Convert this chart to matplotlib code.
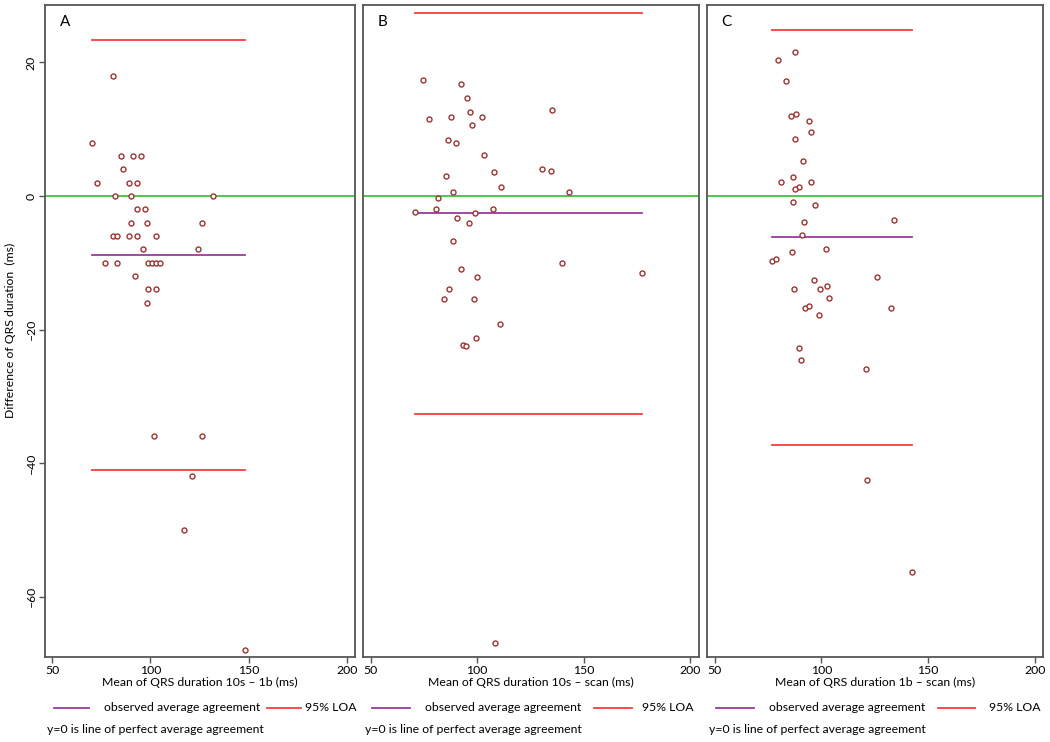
import matplotlib
matplotlib.use("Agg")
import matplotlib.pyplot as plt
from matplotlib.lines import Line2D

plt.rcParams['font.family'] = ['Lato', 'DejaVu Sans']

# ---------------- data ----------------
a_x = [81, 70, 85, 91, 95, 86, 73, 89, 93, 82, 90, 132, 93, 97, 90, 98, 126,
       81, 83, 89, 93, 103, 96, 124, 77, 83, 99, 101, 103, 105, 92, 99, 103, 98,
       102, 126, 121, 117, 148]
a_y = [18, 8, 6, 6, 6, 4, 2, 2, 2, 0, 0, 0, -2, -2, -4, -4, -4,
       -6, -6, -6, -6, -6, -8, -8, -10, -10, -10, -10, -10, -10, -12, -14, -14, -16,
       -36, -36, -42, -50, -68]

b_x = [74.5, 92.3, 95.4, 135.0, 96.4, 77.6, 87.9, 102.2, 97.5, 86.3, 89.9, 103.3,
       130.5, 134.4, 85.4, 107.8, 111.0, 88.5, 142.9, 81.7, 70.6, 80.8, 98.9, 107.4,
       90.4, 96.0, 88.8, 139.6, 177.4, 92.6, 100.0, 86.8, 84.3, 98.4, 110.7, 99.3,
       93.1, 94.8, 108.5]
b_y = [17.4, 16.8, 14.6, 12.9, 12.6, 11.5, 11.9, 11.8, 10.6, 8.4, 7.9, 6.1,
       4.1, 3.7, 3.0, 3.6, 1.3, 0.65, 0.6, -0.3, -2.4, -2.0, -2.6, -1.95,
       -3.3, -4.0, -6.8, -10.1, -11.5, -11.0, -12.1, -13.9, -15.5, -15.5, -19.1, -21.3,
       -22.3, -22.5, -67.0]

c_x = [87.5, 79.9, 83.5, 85.8, 88.2, 94.4, 95.3, 87.7, 91.4, 86.6, 81.0, 95.0,
       89.4, 87.5, 86.6, 96.9, 92.1, 134.0, 91.1, 86.3, 102.2, 76.8, 78.8, 96.6,
       126.3, 87.1, 99.2, 102.8, 103.7, 92.5, 94.4, 98.9, 132.6, 89.6, 90.5, 121.0,
       121.4, 142.4]
c_y = [21.5, 20.4, 17.2, 12.0, 12.3, 11.3, 9.6, 8.5, 5.3, 2.8, 2.05, 2.15,
       1.3, 1.1, -0.95, -1.35, -3.85, -3.6, -5.9, -8.4, -8.0, -9.7, -9.5, -12.6,
       -12.1, -13.9, -14.0, -13.5, -15.3, -16.8, -16.5, -17.8, -16.8, -22.8, -24.6, -25.9,
       -42.5, -56.3]

mean_diff = [-8.9, -2.6, -6.2]
loa_upper = [23.4, 27.4, 24.8]
loa_lower = [-41.1, -32.6, -37.3]

panel_labels = ["A", "B", "C"]
x_titles = ["Mean of QRS duration 10s \u2013 1b (ms)",
            "Mean of QRS duration 10s \u2013 scan (ms)",
            "Mean of QRS duration 1b \u2013 scan (ms)"]
y_title = "Difference of QRS duration  (ms)"
x_ticks = [50, 100, 150, 200]
y_ticks = [20, 0, -20, -40, -60]
legend_mean = "observed average agreement"
legend_loa = "95% LOA"
note = "y=0 is line of perfect average agreement"

# ---------------- styling ----------------
W, H = 1050, 742
fig = plt.figure(figsize=(W / 100, H / 100), dpi=100)
fig.patch.set_facecolor("white")

marker_col = "#9a3434"
green = "#3fc43f"
red = "#ff3a3a"
purple = "#9a3a9e"
spine_col = "#555555"
fs = 8.8

# axes rectangles in pixels (left, right)
panel_px = [(45, 354.7), (362.7, 699.0), (706.7, 1043.3)]
top_px, bot_px = 5, 656.7

xs = [a_x, b_x, c_x]
ys = [a_y, b_y, c_y]

def fx(px):
    return px / W

def fy(py):
    return 1 - py / H

for i in range(3):
    l, r = panel_px[i]
    ax = fig.add_axes([fx(l), fy(bot_px), fx(r - l), (bot_px - top_px) / H])
    ax.set_xlim(46.3, 204)
    ax.set_ylim(-69.0, 28.6)
    for s in ax.spines.values():
        s.set_color(spine_col)
        s.set_linewidth(1.3)

    ax.axhline(0, color=green, lw=1.3, zorder=1)
    xmin, xmax = min(xs[i]), max(xs[i])
    ax.plot([xmin, xmax], [loa_upper[i]] * 2, color=red, lw=1.3, zorder=2)
    ax.plot([xmin, xmax], [loa_lower[i]] * 2, color=red, lw=1.3, zorder=2)
    ax.plot([xmin, xmax], [mean_diff[i]] * 2, color=purple, lw=1.3, zorder=2)
    ax.plot(xs[i], ys[i], linestyle="none", marker="o", markersize=3.6,
            markerfacecolor="white", markeredgecolor=marker_col,
            markeredgewidth=1.0, zorder=3)

    ax.set_xticks(x_ticks)
    ax.set_xticklabels([str(t) for t in x_ticks])
    ax.tick_params(axis="x", length=4, width=1, color=spine_col, pad=2,
                   labelsize=fs, direction="out")
    if i == 0:
        ax.set_yticks(y_ticks)
        ax.set_yticklabels([str(t).replace("-", "\u2013") for t in y_ticks],
                           rotation=90, va="center")
        ax.tick_params(axis="y", length=4, width=1, color=spine_col, pad=2,
                       labelsize=fs, direction="out")
    else:
        ax.set_yticks([])

    ax.set_xlabel(x_titles[i], fontsize=fs, labelpad=1)
    ax.text(14.5 / (r - l), 1 - 17 / (bot_px - top_px), panel_labels[i],
            transform=ax.transAxes, fontsize=11, ha="left", va="center")

    # legend below panel
    ly = 707.7
    off = [(9, 44, 59, 222, 256, 260), (9, 47, 62.6, 231.6, 269, 279),
           (9.3, 47, 62.6, 231.6, 268.6, 282)][i]
    fig.add_artist(Line2D([fx(l + off[0]), fx(l + off[1])], [fy(ly), fy(ly)],
                          color=purple, lw=1.3))
    fig.text(fx(l + off[2]), fy(ly), legend_mean, fontsize=fs,
             ha="left", va="center")
    fig.add_artist(Line2D([fx(l + off[3]), fx(l + off[4])], [fy(ly), fy(ly)],
                          color=red, lw=1.3))
    fig.text(fx(l + off[5]), fy(ly), legend_loa, fontsize=fs,
             ha="left", va="center")
    fig.text(fx(l + 2), fy(729.5), note, fontsize=fs, ha="left", va="center")

fig.text(fx(10), fy((top_px + bot_px) / 2), y_title, rotation=90,
         fontsize=fs, ha="center", va="center")

fig.savefig("out.png", dpi=100, facecolor="white")
